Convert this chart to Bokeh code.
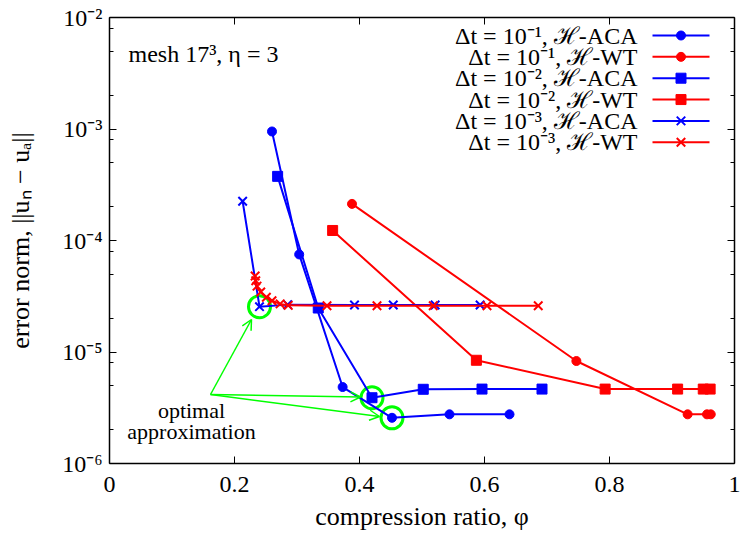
from bokeh.plotting import figure
from bokeh.models import Range1d, FixedTicker, LinearAxis, LogAxis, Label, Arrow, OpenHead
from bokeh.embed import file_html
from bokeh.resources import INLINE

# ---------------------------------------------------------------------------
# Error norm vs. compression ratio (phi) for H-ACA and H-WT, three time steps
# ---------------------------------------------------------------------------
aca1_phi = [0.260, 0.3035, 0.373, 0.452, 0.544, 0.640]
aca1_err = [9.5e-4, 7.5e-5, 4.85e-6, 2.57e-6, 2.76e-6, 2.76e-6]

wt1_phi = [0.388, 0.747, 0.925, 0.956, 0.962]
wt1_err = [2.13e-4, 8.3e-6, 2.76e-6, 2.76e-6, 2.76e-6]

aca2_phi = [0.269, 0.334, 0.420, 0.502, 0.596, 0.692]
aca2_err = [3.76e-4, 2.48e-5, 3.89e-6, 4.63e-6, 4.65e-6, 4.65e-6]

wt2_phi = [0.357, 0.587, 0.793, 0.909, 0.950, 0.961]
wt2_err = [1.23e-4, 8.43e-6, 4.65e-6, 4.65e-6, 4.65e-6, 4.65e-6]

aca3_phi = [0.213, 0.240, 0.285, 0.392, 0.454, 0.521, 0.593]
aca3_err = [2.25e-4, 2.55e-5, 2.66e-5, 2.64e-5, 2.64e-5, 2.64e-5, 2.64e-5]

wt3_phi = [0.233, 0.234, 0.236, 0.242, 0.251, 0.260, 0.273, 0.286,
           0.348, 0.428, 0.518, 0.604, 0.686]
wt3_err = [4.8e-5, 4.35e-5, 3.9e-5, 3.45e-5, 3.1e-5, 2.88e-5, 2.7e-5, 2.62e-5,
           2.6e-5, 2.6e-5, 2.6e-5, 2.6e-5, 2.6e-5]

legend_labels = [
    "\u0394t = 10\u207b\u00b9, \u210b-ACA",
    "\u0394t = 10\u207b\u00b9, \u210b-WT",
    "\u0394t = 10\u207b\u00b2, \u210b-ACA",
    "\u0394t = 10\u207b\u00b2, \u210b-WT",
    "\u0394t = 10\u207b\u00b3, \u210b-ACA",
    "\u0394t = 10\u207b\u00b3, \u210b-WT",
]

x_ticks = [0.0, 0.2, 0.4, 0.6, 0.8, 1.0]
x_tick_labels = ["0", "0.2", "0.4", "0.6", "0.8", "1"]
y_ticks = [1e-6, 1e-5, 1e-4, 1e-3, 1e-2]
y_tick_labels = ["10\u207b\u2076", "10\u207b\u2075", "10\u207b\u2074",
                 "10\u207b\u00b3", "10\u207b\u00b2"]

x_title = "compression ratio, \u03c6"
y_title = "error norm, ||u\u2099 \u2212 u\u2090||"

# best trade-off points: Δt=1e-3 ACA #2, Δt=1e-2 ACA #3, Δt=1e-1 ACA #4
optimal_phi = [aca3_phi[1], aca2_phi[2], aca1_phi[3]]
optimal_err = [aca3_err[1], aca2_err[2], aca1_err[3]]

# ---------------------------------------------------------------------------
FONT = "Liberation Serif"
BLUE, RED, GREEN = "#0000ff", "#ff0000", "#00ff00"

W, H = 742, 534
FRAME_L, FRAME_R, FRAME_T, FRAME_B = 109, 734, 17, 463
Y_LOG_TOP, Y_DECADES = -2, 4


def x_at(px):
    """frame pixel column -> phi"""
    return (px - FRAME_L) / (FRAME_R - FRAME_L)


def y_at(py):
    """frame pixel row -> error norm (log axis)"""
    return 10 ** (Y_LOG_TOP - Y_DECADES * (py - FRAME_T) / (FRAME_B - FRAME_T))


p = figure(width=W, height=H,
           x_range=Range1d(0, 1), y_range=Range1d(1e-6, 1e-2),
           y_axis_type="log", output_backend="svg", toolbar_location=None,
           min_border_left=FRAME_L, min_border_right=W - FRAME_R,
           min_border_top=FRAME_T, min_border_bottom=H - FRAME_B)
p.grid.visible = False
p.outline_line_color = None
p.background_fill_color = "white"
p.border_fill_color = "white"

minor_y = [m * 10.0 ** k for k in range(-6, -2) for m in (2, 5, 8)]

bottom = p.below[0]
left = p.left[0]
bottom.ticker = FixedTicker(ticks=x_ticks, minor_ticks=[])
left.ticker = FixedTicker(ticks=y_ticks, minor_ticks=minor_y)
bottom.major_label_overrides = dict(zip(x_ticks, x_tick_labels))
left.major_label_overrides = dict(zip(y_ticks, y_tick_labels))

top = LinearAxis(ticker=FixedTicker(ticks=x_ticks, minor_ticks=[]))
right = LogAxis(ticker=FixedTicker(ticks=y_ticks, minor_ticks=minor_y))
p.add_layout(top, "above")
p.add_layout(right, "right")

for ax in (bottom, left, top, right):
    ax.axis_line_color = "black"
    ax.axis_line_width = 1.5
    ax.major_tick_in, ax.major_tick_out = 7, 0
    ax.minor_tick_in, ax.minor_tick_out = 4, 0
    ax.major_tick_line_color = "black"
    ax.minor_tick_line_color = "black"
    ax.major_tick_line_width = 1
    ax.minor_tick_line_width = 1

for ax in (bottom, left):
    ax.major_label_text_font = FONT
    ax.major_label_text_font_size = "24px"
    ax.major_label_text_color = "black"
    ax.axis_label_text_font = FONT
    ax.axis_label_text_font_size = "26px"
    ax.axis_label_text_font_style = "normal"
    ax.axis_label_text_color = "black"

bottom.major_label_standoff = 13
bottom.axis_label = x_title
bottom.axis_label_standoff = 7
left.major_label_standoff = 7
left.axis_label = y_title
left.axis_label_standoff = 24

for ax in (top, right):
    ax.major_label_text_color = None
    ax.major_label_text_font_size = "1px"
    ax.major_label_standoff = 0

# rings around the optimal points
p.scatter(optimal_phi, optimal_err, marker="circle", size=22,
          fill_color=None, line_color=GREEN, line_width=3)

series = [
    (aca1_phi, aca1_err, BLUE, "circle", 9),
    (wt1_phi, wt1_err, RED, "circle", 9),
    (aca2_phi, aca2_err, BLUE, "square", 10),
    (wt2_phi, wt2_err, RED, "square", 10),
    (aca3_phi, aca3_err, BLUE, "x", 12),
    (wt3_phi, wt3_err, RED, "x", 12),
]

for phi, err, color, marker, size in series:
    p.line(phi, err, line_color=color, line_width=2)
    p.scatter(phi, err, marker=marker, size=size, fill_color=color,
              line_color=color, line_width=2 if marker == "x" else 1)

# "optimal approximation" callout
ox, oy = x_at(210), y_at(394)
for tx, ty in ((x_at(251), y_at(319)), (x_at(360), y_at(396.5)), (x_at(379), y_at(416))):
    p.add_layout(Arrow(end=OpenHead(size=10, line_color=GREEN, line_width=1.5),
                       x_start=ox, y_start=oy, x_end=tx, y_end=ty,
                       line_color=GREEN, line_width=1.5))

for text, py in (("optimal", 410), ("approximation", 431)):
    p.add_layout(Label(x=x_at(191), y=y_at(py), text=text, text_align="center",
                       text_baseline="middle", text_font=FONT,
                       text_font_size="22px", text_color="black"))

p.add_layout(Label(x=x_at(128), y=y_at(53), text="mesh 17\u00b3, \u03b7 = 3",
                   text_align="left", text_baseline="middle", text_font=FONT,
                   text_font_size="24px", text_color="black"))

# legend: right-aligned text with a line sample to its right
for k, (phi, err, color, marker, size) in enumerate(series):
    ry = y_at(35 + 21.35 * k)
    p.line([x_at(652), x_at(709)], [ry, ry], line_color=color, line_width=2)
    p.scatter([x_at(680.5)], [ry], marker=marker, size=size, fill_color=color,
              line_color=color, line_width=2 if marker == "x" else 1)
    p.add_layout(Label(x=x_at(637), y=ry, text=legend_labels[k], text_align="right",
                       text_baseline="middle", text_font=FONT,
                       text_font_size="24px", text_color="black"))

open("out.html", "w", encoding="utf-8").write(file_html(p, INLINE))
